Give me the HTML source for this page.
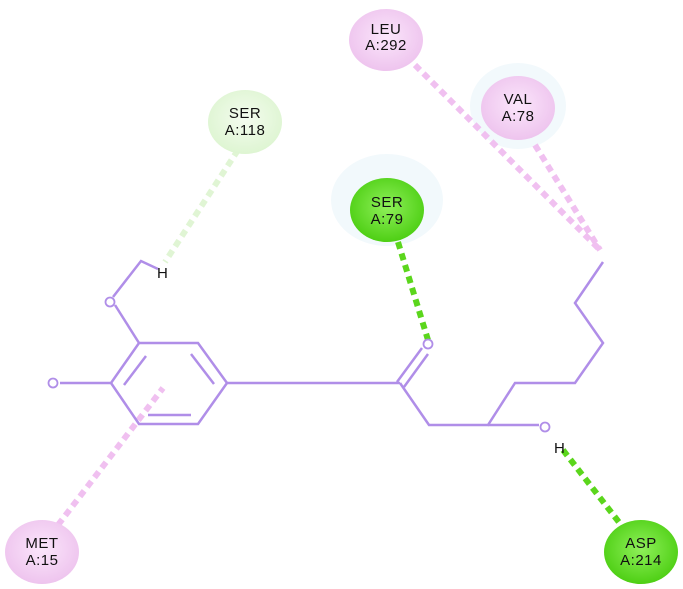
<!DOCTYPE html>
<html><head><style>body{margin:0;background:#fff}svg{display:block}</style></head><body>
<svg width="683" height="589" viewBox="0 0 683 589" xmlns="http://www.w3.org/2000/svg" font-family="Liberation Sans, sans-serif">
<defs>
<radialGradient id="pk" cx="50%" cy="45%" r="55%"><stop offset="0" stop-color="#fbe6fb"/><stop offset="1" stop-color="#eec4ee"/></radialGradient>
<radialGradient id="gr" cx="50%" cy="45%" r="55%"><stop offset="0" stop-color="#8ff05a"/><stop offset="1" stop-color="#4ecf14"/></radialGradient>
<radialGradient id="lg" cx="50%" cy="45%" r="55%"><stop offset="0" stop-color="#f4fcef"/><stop offset="1" stop-color="#def5d2"/></radialGradient>
</defs>
<ellipse cx="518" cy="106" rx="48" ry="43" fill="#f2f9fc"/>
<ellipse cx="387" cy="200" rx="56" ry="46" fill="#f2f9fc"/>
<g stroke-width="6" fill="none" stroke-dasharray="7,5">
<line x1="415" y1="65" x2="600" y2="250" stroke="#f0c0f0"/>
<line x1="535" y1="145" x2="600" y2="250" stroke="#f0c0f0"/>
<line x1="58" y1="525" x2="163" y2="388" stroke="#f0c0f0"/>
<line x1="238" y1="150" x2="165" y2="262" stroke="#e0f5d4"/>
<line x1="398" y1="242" x2="428" y2="340" stroke="#5bd61c"/>
<line x1="563" y1="450" x2="625" y2="530" stroke="#5bd61c"/>
</g>
<g stroke="#b08ee8" stroke-width="2.5" fill="none">
<polygon points="139,343 198,343 227,383 198,424 139,424 111,383"/>
<line x1="146" y1="356" x2="124" y2="385"/>
<line x1="191" y1="354" x2="214" y2="384"/>
<line x1="148" y1="415" x2="191" y2="415"/>
<line x1="111" y1="383" x2="60" y2="383"/>
<line x1="139" y1="343" x2="115" y2="305"/>
<polyline points="113,297 141,261 158,269"/>
<line x1="227" y1="383" x2="400" y2="383"/>
<line x1="397" y1="382" x2="422" y2="348"/>
<line x1="404" y1="387" x2="428" y2="354"/>
<polyline points="400,383 429,425 488,425 515,383 575,383 603,343 575,303 603,262"/>
<line x1="488" y1="425" x2="539" y2="425"/>
</g>
<g fill="#fff" stroke="#b08ee8" stroke-width="1.8">
<circle cx="110" cy="302" r="4.5"/><circle cx="53" cy="383" r="4.5"/><circle cx="428" cy="344" r="4.5"/><circle cx="545" cy="427" r="4.5"/>
</g>
<g font-size="15" fill="#111"><text x="157" y="278">H</text><text x="554" y="453">H</text></g>
<g font-size="15" fill="#111" text-anchor="middle" letter-spacing="0.5">
<ellipse cx="386" cy="40" rx="37" ry="31" fill="url(#pk)"/><text x="386" y="34">LEU</text><text x="386" y="50">A:292</text>
<ellipse cx="518" cy="108" rx="37" ry="32" fill="url(#pk)"/><text x="518" y="104">VAL</text><text x="518" y="121">A:78</text>
<ellipse cx="245" cy="122" rx="37" ry="32" fill="url(#lg)"/><text x="245" y="118">SER</text><text x="245" y="135">A:118</text>
<ellipse cx="387" cy="210" rx="37" ry="32" fill="url(#gr)"/><text x="387" y="207">SER</text><text x="387" y="224">A:79</text>
<ellipse cx="42" cy="552" rx="37" ry="32" fill="url(#pk)"/><text x="42" y="548">MET</text><text x="42" y="565">A:15</text>
<ellipse cx="641" cy="552" rx="37" ry="32" fill="url(#gr)"/><text x="641" y="548">ASP</text><text x="641" y="565">A:214</text>
</g>
</svg>
</body></html>
